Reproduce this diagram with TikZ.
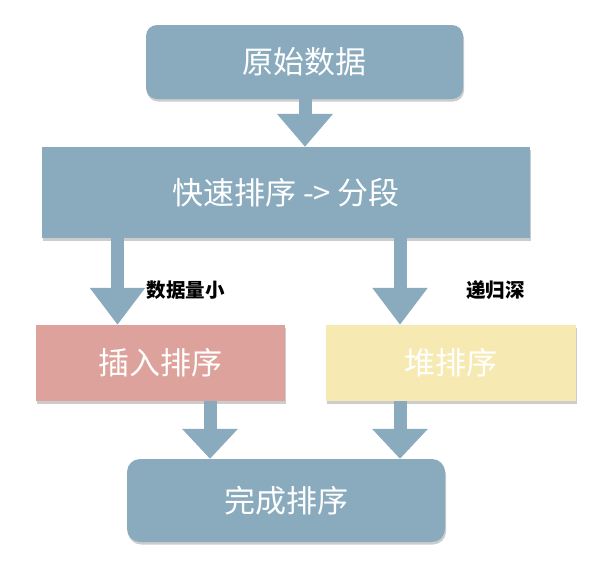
\documentclass[tikz,border=0pt]{standalone}
\usepackage{fontspec}
\setmainfont{Noto Sans CJK SC}
\usetikzlibrary{arrows.meta,shadows,calc}
\definecolor{bluegrey}{HTML}{8AABBE}
\definecolor{pinkbox}{HTML}{DDA29B}
\definecolor{yellowbox}{HTML}{F6E9B1}
\tikzset{
  box/.style={draw=none, text=white, inner sep=0pt, font=\fontsize{31}{36}\selectfont,
    drop shadow={shadow xshift=1pt, shadow yshift=-2.5pt, opacity=0.2, fill=black}},
  flow/.style={draw=bluegrey, line width=13pt},
  lbl/.style={font=\bfseries\fontsize{19.5}{23}\selectfont, text=black}
}
\begin{document}
\begin{tikzpicture}[x=1pt,y=-1pt]
\useasboundingbox (0,0) rectangle (600,560);
\node[box, fill=bluegrey, rounded corners=11pt, minimum width=317pt, minimum height=74pt] (src) at (304.5,62) {原始数据};
\node[box, fill=bluegrey, minimum width=488pt, minimum height=91pt] (qs) at (286,192.5) {快速排序 -> 分段};
\node[box, fill=pinkbox, minimum width=249pt, minimum height=76pt] (ins) at (160.5,363) {插入排序};
\node[box, fill=yellowbox, minimum width=250pt, minimum height=76pt] (heap) at (451,363) {堆排序};
\node[box, fill=bluegrey, rounded corners=13pt, minimum width=318pt, minimum height=83pt] (done) at (286,500.5) {完成排序};
\node[lbl] (l1) at (185.5,290) {数据量小};
\node[lbl] (l2) at (495.5,290) {递归深};
\coordinate (x1) at (305,0);
\coordinate (x2) at (117.5,0);
\coordinate (x3) at (400,0);
\coordinate (x4) at (210,0);
\coordinate (x5) at (400,0);
\draw[flow, -{Triangle[width=54pt,length=33pt]}] (src.south -| x1) -- (qs.north -| x1);
\draw[flow, -{Triangle[width=53pt,length=37pt]}] (qs.south -| x2) -- (ins.north -| x2);
\draw[flow, -{Triangle[width=53pt,length=37pt]}] (qs.south -| x3) -- (heap.north -| x3);
\draw[flow, -{Triangle[width=54pt,length=30pt]}] (ins.south -| x4) -- (done.north -| x4);
\draw[flow, -{Triangle[width=54pt,length=30pt]}] (heap.south -| x5) -- (done.north -| x5);
\end{tikzpicture}
\end{document}
